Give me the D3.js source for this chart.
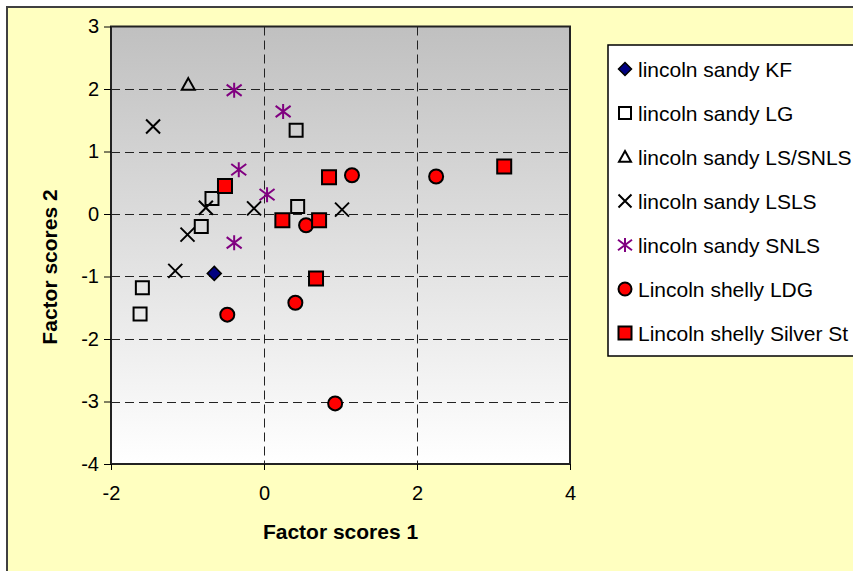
<!DOCTYPE html>
<html>
<head>
<meta charset="utf-8">
<script src="https://cdn.jsdelivr.net/npm/d3@7"></script>
<style>
  body { margin: 0; background: #fff; }
  svg { display: block; }
</style>
</head>
<body>
<svg id="chart" width="853" height="571"></svg>
<script>
// series data
const seriesNames = [
  "lincoln sandy KF",
  "lincoln sandy LG",
  "lincoln sandy LS/SNLS",
  "lincoln sandy LSLS",
  "lincoln sandy SNLS",
  "Lincoln shelly LDG",
  "Lincoln shelly Silver St"
];
const kfX = [-0.65];
const kfY = [-0.95];
const lgX = [0.42, 0.44, -0.68, -0.82, -1.59, -1.62];
const lgY = [1.34, 0.12, 0.25, -0.2, -1.18, -1.6];
const lsSnlsX = [-0.99];
const lsSnlsY = [2.07];
const lslsX = [-1.45, -0.76, -0.13, -1.0, -1.16, 1.02];
const lslsY = [1.4, 0.1, 0.09, -0.33, -0.91, 0.07];
const snlsX = [-0.39, 0.25, -0.33, 0.04, -0.39];
const snlsY = [1.98, 1.64, 0.71, 0.31, -0.46];
const ldgX = [1.15, 2.25, 0.55, 0.41, 0.93, -0.48];
const ldgY = [0.62, 0.6, -0.18, -1.42, -3.03, -1.61];
const silverX = [3.14, 0.85, 0.24, 0.72, 0.68, -0.51];
const silverY = [0.76, 0.59, -0.1, -0.1, -1.03, 0.45];

const xTicks = [-2, 0, 2, 4];
const yTicks = [3, 2, 1, 0, -1, -2, -3, -4];

const svg = d3.select("#chart");
const font = "'Liberation Sans', Arial, sans-serif";

// plot area
const plotLeft = 111, plotRight = 570, plotTop = 26.5, plotBottom = 464;

const x = d3.scaleLinear().domain([-2, 4]).range([plotLeft, plotRight]);
const y = d3.scaleLinear().domain([-4, 3]).range([plotBottom, plotTop]);

// custom marker shapes (s = half width in px)
const shapes = {
  diamond: (s) => `M0,${-s}L${s},0L0,${s}L${-s},0Z`,
  square: (s) => `M${-s},${-s}H${s}V${s}H${-s}Z`,
  triangle: (s) => `M0,${-s}L${s},${s * 0.8}L${-s},${s * 0.8}Z`,
  cross: (s) => `M${-s},${-s}L${s},${s}M${s},${-s}L${-s},${s}`,
  star: (s) => `M${-s},${-s * 0.75}L${s},${s * 0.75}M${s},${-s * 0.75}L${-s},${s * 0.75}M0,${-s}V${s}`,
  circle: (s) => `M${s},0A${s},${s} 0 1,1 ${-s},0A${s},${s} 0 1,1 ${s},0Z`
};

const series = [
  { name: seriesNames[0], xs: kfX, ys: kfY, shape: "diamond", size: 7, fill: "#000080", stroke: "#000", sw: 1.5 },
  { name: seriesNames[1], xs: lgX, ys: lgY, shape: "square", size: 6.5, fill: "none", stroke: "#000", sw: 2 },
  { name: seriesNames[2], xs: lsSnlsX, ys: lsSnlsY, shape: "triangle", size: 6.5, fill: "none", stroke: "#000", sw: 2 },
  { name: seriesNames[3], xs: lslsX, ys: lslsY, shape: "cross", size: 7, fill: "none", stroke: "#000", sw: 2 },
  { name: seriesNames[4], xs: snlsX, ys: snlsY, shape: "star", size: 7.5, fill: "none", stroke: "#800080", sw: 2 },
  { name: seriesNames[5], xs: ldgX, ys: ldgY, shape: "circle", size: 7, fill: "#ff0000", stroke: "#000", sw: 2 },
  { name: seriesNames[6], xs: silverX, ys: silverY, shape: "square", size: 7, fill: "#ff0000", stroke: "#000", sw: 2 }
];

// chart background
svg.append("rect")
  .attr("x", 7).attr("y", 7)
  .attr("width", 900).attr("height", 600)
  .attr("fill", "#ffffc0")
  .attr("stroke", "#404040")
  .attr("stroke-width", 2);

// gradient for plot area
const grad = svg.append("defs").append("linearGradient")
  .attr("id", "plotGrad")
  .attr("x1", 0).attr("y1", 0).attr("x2", 0).attr("y2", 1);
grad.append("stop").attr("offset", "0%").attr("stop-color", "#c0c0c0");
grad.append("stop").attr("offset", "100%").attr("stop-color", "#ffffff");

svg.append("rect")
  .attr("x", plotLeft).attr("y", plotTop)
  .attr("width", plotRight - plotLeft).attr("height", plotBottom - plotTop)
  .attr("fill", "url(#plotGrad)");

// grid lines (snapped to whole pixels so the dashes stay dark)
const snap = (v) => Math.round(v) + 0.5;

svg.append("g")
  .selectAll("line")
  .data(yTicks.filter((d) => d > -4 && d < 3))
  .join("line")
  .attr("x1", plotLeft).attr("x2", plotRight)
  .attr("y1", (d) => snap(y(d))).attr("y2", (d) => snap(y(d)))
  .attr("stroke", "#222")
  .attr("stroke-width", 1)
  .attr("stroke-dasharray", "9,5");

svg.append("g")
  .selectAll("line")
  .data(xTicks.filter((d) => d > -2 && d < 4))
  .join("line")
  .attr("y1", plotTop).attr("y2", plotBottom)
  .attr("x1", (d) => snap(x(d))).attr("x2", (d) => snap(x(d)))
  .attr("stroke", "#222")
  .attr("stroke-width", 1)
  .attr("stroke-dasharray", "9,5");

// plot border
svg.append("rect")
  .attr("x", plotLeft).attr("y", plotTop)
  .attr("width", plotRight - plotLeft).attr("height", plotBottom - plotTop)
  .attr("fill", "none")
  .attr("stroke", "#222")
  .attr("stroke-width", 2);

// axes
const fmt = (d) => String(d);
const xAxis = svg.append("g")
  .attr("transform", `translate(0,${plotBottom})`)
  .call(d3.axisBottom(x).tickValues(xTicks).tickSize(6).tickPadding(16).tickFormat(fmt));
const yAxis = svg.append("g")
  .attr("transform", `translate(${plotLeft},0)`)
  .call(d3.axisLeft(y).tickValues(yTicks).tickSize(7).tickPadding(5).tickFormat(fmt));

[xAxis, yAxis].forEach((ax) => {
  ax.select(".domain").remove();
  ax.selectAll("line").attr("stroke", "#000");
  ax.selectAll("text")
    .attr("fill", "#000")
    .style("font-family", font)
    .style("font-size", "20px");
});
xAxis.selectAll("text").attr("dy", "0.71em");

// axis titles
svg.append("text")
  .attr("x", (plotLeft + plotRight) / 2)
  .attr("y", 539)
  .attr("text-anchor", "middle")
  .style("font-family", font)
  .style("font-size", "21px")
  .style("font-weight", "bold")
  .text("Factor scores 1");

svg.append("text")
  .attr("transform", "translate(57,267) rotate(-90)")
  .attr("text-anchor", "middle")
  .style("font-family", font)
  .style("font-size", "21px")
  .style("font-weight", "bold")
  .text("Factor scores 2");

// points
series.forEach((s) => {
  svg.append("g")
    .selectAll("path")
    .data(s.xs.map((v, i) => [v, s.ys[i]]))
    .join("path")
    .attr("transform", (d) => `translate(${x(d[0])},${y(d[1])})`)
    .attr("d", shapes[s.shape](s.size))
    .attr("fill", s.fill)
    .attr("stroke", s.stroke)
    .attr("stroke-width", s.sw);
});

// legend
svg.append("rect")
  .attr("x", 608).attr("y", 45)
  .attr("width", 300).attr("height", 311)
  .attr("fill", "#fff")
  .attr("stroke", "#000")
  .attr("stroke-width", 1.5);

const legendRow = d3.scaleLinear().domain([0, 6]).range([69, 333]);

const legend = svg.append("g")
  .selectAll("g")
  .data(series)
  .join("g")
  .attr("transform", (d, i) => `translate(625,${legendRow(i)})`);

legend.append("path")
  .attr("d", (d) => shapes[d.shape](d.size - 0.5))
  .attr("fill", (d) => d.fill)
  .attr("stroke", (d) => d.stroke)
  .attr("stroke-width", (d) => d.sw);

legend.append("text")
  .attr("x", 13)
  .attr("y", 8)
  .style("font-family", font)
  .style("font-size", "21px")
  .text((d) => d.name);
</script>
</body>
</html>
